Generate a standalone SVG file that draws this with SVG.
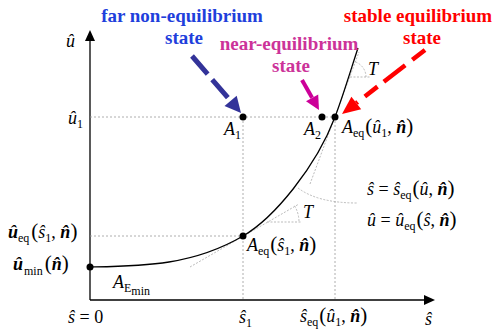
<svg xmlns="http://www.w3.org/2000/svg" width="496" height="330" viewBox="0 0 496 330" font-family="'Liberation Serif', 'DejaVu Serif', serif">
<style>
text{font-family:"Liberation Serif","DejaVu Serif",serif;}
.m{font-size:18px;fill:#000;}
.i{font-style:italic;}
.b{font-weight:bold;}
.sub{font-size:12px;font-style:normal;font-weight:normal;}
.p{font-size:21px;font-style:normal;}
.bn{font-style:italic;font-weight:bold;}
.lbl{font-size:19px;font-weight:bold;text-anchor:middle;}
.guide{stroke:#999;stroke-width:0.8;stroke-dasharray:2 2;fill:none;}
.tan{stroke:#aaa;stroke-width:0.8;stroke-dasharray:2 1.5;fill:none;}
.axis{stroke:#000;stroke-width:1.3;fill:none;}
.dot{fill:#000;}
</style>
<g id="axes">
<line class="axis" x1="90" y1="300" x2="90" y2="40"/>
<polygon points="90,30 85,41 95,41" fill="#000"/>
<line class="axis" x1="90" y1="300" x2="425" y2="300"/>
<polygon points="435,300 424,295 424,305" fill="#000"/>
</g>
<g id="guides">
<line class="guide" x1="90" y1="117" x2="335" y2="117"/>
<line class="guide" x1="243" y1="117" x2="243" y2="300"/>
<line class="guide" x1="335" y1="117" x2="335" y2="300"/>
<line class="guide" x1="90" y1="236" x2="243" y2="236"/>
<line class="tan" x1="190" y1="267" x2="299" y2="204"/>
<line class="tan" x1="267" y1="222" x2="302" y2="222"/>
<path class="tan" d="M294.6,205.8 A32,32 0 0 1 299,222"/>
<line class="tan" x1="310" y1="184" x2="359" y2="52"/>
<line class="tan" x1="350" y1="77" x2="371" y2="77"/>
<path class="tan" d="M355.6,62 A16,16 0 0 1 366,77"/>
<path class="tan" d="M298,188 Q318,203 357,203"/>
</g>
<g id="curve">
<path d="M90,267 C141,266 192,266 243,236 C274,218 316,167 335,117 C343,96 352,66 358,48" fill="none" stroke="#000" stroke-width="1.3"/>
</g>
<g id="connectors">
<line x1="192" y1="56" x2="230.6" y2="100.9" stroke="#333399" stroke-width="5" stroke-dasharray="24 7"/>
<polygon points="241,113 224.5,106.1 236.7,95.7" fill="#333399"/>
<line x1="302" y1="80" x2="312.1" y2="97.8" stroke="#cc0099" stroke-width="4"/>
<polygon points="319,110 306,101.3 318.2,94.4" fill="#cc0099"/>
<line x1="425" y1="50" x2="356.3" y2="103" stroke="#ff0000" stroke-width="4.5" stroke-dasharray="16 9 27 8"/>
<polygon points="342,114 351.4,96.7 361.2,109.3" fill="#ff0000"/>
</g>
<g id="A1"><circle class="dot" cx="243" cy="117" r="3.5"/><text class="m" x="224" y="135"><tspan class="i">A</tspan><tspan class="sub" dy="4">1</tspan></text></g>
<g id="A2"><circle class="dot" cx="322" cy="117" r="3.5"/><text class="m" x="304" y="135"><tspan class="i">A</tspan><tspan class="sub" dy="4">2</tspan></text></g>
<g id="Aeq1"><circle class="dot" cx="335" cy="117" r="3.5"/><text class="m" x="342" y="133"><tspan class="i">A</tspan><tspan class="sub" dy="4">eq</tspan><tspan class="p" dy="-4" dx="1">(</tspan><tspan class="i">û</tspan><tspan class="sub" dy="4">1</tspan><tspan dy="-4">, </tspan><tspan class="bn">n̂</tspan><tspan class="p">)</tspan></text></g>
<g id="Aeqs1"><circle class="dot" cx="243" cy="236" r="3.5"/><text class="m" x="247" y="251"><tspan class="i">A</tspan><tspan class="sub" dy="4">eq</tspan><tspan class="p" dy="-4" dx="1">(</tspan><tspan class="i">ŝ</tspan><tspan class="sub" dy="4">1</tspan><tspan dy="-4">, </tspan><tspan class="bn">n̂</tspan><tspan class="p">)</tspan></text></g>
<g id="Amin"><circle class="dot" cx="90" cy="267" r="3.5"/><text class="m" x="113" y="288"><tspan class="i">A</tspan><tspan class="sub i" dy="4" font-size="11">E</tspan><tspan class="sub" dy="3" font-size="8">min</tspan></text></g>
<g id="labels">
<text class="m i" x="66" y="47">û</text>
<text class="m" x="68" y="124"><tspan class="i">û</tspan><tspan class="sub" dy="4">1</tspan></text>
<text class="m" x="8" y="238"><tspan class="bn">û</tspan><tspan class="sub" dy="4">eq</tspan><tspan class="p" dy="-4" dx="2">(</tspan><tspan class="i">ŝ</tspan><tspan class="sub" dy="4">1</tspan><tspan dy="-4">, </tspan><tspan class="bn">n̂</tspan><tspan class="p">)</tspan></text>
<text class="m" x="13" y="270"><tspan class="bn">û</tspan><tspan class="sub" dy="5" font-size="13" dx="1">min</tspan><tspan class="p" dy="-5" dx="2">(</tspan><tspan class="bn">n̂</tspan><tspan class="p">)</tspan></text>
<text class="m" x="68" y="323"><tspan class="i">ŝ</tspan> = 0</text>
<text class="m" x="239" y="323"><tspan class="i">ŝ</tspan><tspan class="sub" dy="4">1</tspan></text>
<text class="m" x="300" y="322"><tspan class="i">ŝ</tspan><tspan class="sub" dy="4">eq</tspan><tspan class="p" dy="-4" dx="1">(</tspan><tspan class="i">û</tspan><tspan class="sub" dy="4">1</tspan><tspan dy="-4">, </tspan><tspan class="bn">n̂</tspan><tspan class="p">)</tspan></text>
<text class="m i" x="425" y="325">ŝ</text>
<text class="m" x="367" y="195"><tspan class="i">ŝ</tspan> = <tspan class="i">ŝ</tspan><tspan class="sub" dy="4">eq</tspan><tspan class="p" dy="-4" dx="1">(</tspan><tspan class="i">û</tspan>, <tspan class="bn">n̂</tspan><tspan class="p">)</tspan></text>
<text class="m" x="367" y="226"><tspan class="i">û</tspan> = <tspan class="i">û</tspan><tspan class="sub" dy="4">eq</tspan><tspan class="p" dy="-4" dx="1">(</tspan><tspan class="i">ŝ</tspan>, <tspan class="bn">n̂</tspan><tspan class="p">)</tspan></text>
<text class="m i" x="368" y="75">T</text>
<text class="m i" x="303" y="218">T</text>
<text class="lbl" x="182" y="22" fill="#1f3fdc">far non-equilibrium</text>
<text class="lbl" x="184" y="44" fill="#1f3fdc">state</text>
<text class="lbl" x="289" y="50" fill="#cc3399">near-equilibrium</text>
<text class="lbl" x="291" y="72" fill="#cc3399">state</text>
<text class="lbl" x="418" y="22" fill="#ff0000">stable equilibrium</text>
<text class="lbl" x="422" y="44" fill="#ff0000">state</text>
</g>
</svg>
